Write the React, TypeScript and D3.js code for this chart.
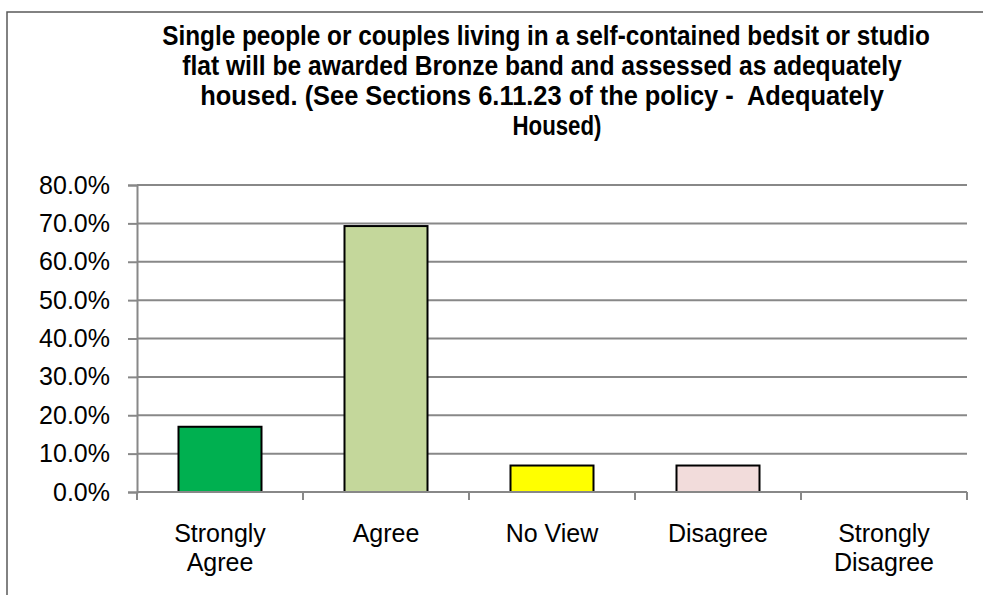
// @ts-nocheck
import React, { useRef, useEffect } from "react";
import * as d3 from "d3";

const categories = ["Strongly Agree", "Agree", "No View", "Disagree", "Strongly Disagree"];
const categoryLines = [["Strongly", "Agree"], ["Agree"], ["No View"], ["Disagree"], ["Strongly", "Disagree"]];
const values = [0.17, 0.693, 0.069, 0.069, 0];
const barColors = ["#00B050", "#C4D79B", "#FFFF00", "#F2DCDB", "#C0504D"];
const yTicks = [0, 0.1, 0.2, 0.3, 0.4, 0.5, 0.6, 0.7, 0.8];
const titleLines = [
  "Single people or couples living in a self-contained bedsit or studio",
  "flat will be awarded Bronze band and assessed as adequately",
  "housed. (See Sections 6.11.23 of the policy -  Adequately",
  "Housed)",
];
const titleWidths = [768, 720, 684, 89];
const titleCenters = [546, 542, 542, 557];

const App = () => {
  const svgRef = useRef(null);

  useEffect(() => {
    const width = 983,
      height = 595;
    const svg = d3.select(svgRef.current);
    svg.selectAll("*").remove();

    const marginTop = 185,
      marginBottom = 103,
      marginLeft = 137,
      marginRight = 16;

    const gridColor = "#888888";
    const font = "'Liberation Sans', Arial, sans-serif";

    // chart frame (runs off the right and bottom edge)
    svg
      .append("path")
      .attr("d", `M7,${height}V12H${width}`)
      .attr("fill", "none")
      .attr("stroke", "#595959")
      .attr("stroke-width", 1.5);

    // title, squeezed horizontally like a condensed face
    svg
      .append("g")
      .selectAll("text")
      .data(titleLines)
      .join("text")
      .attr("text-anchor", "middle")
      .attr("font-family", font)
      .attr("font-weight", "bold")
      .attr("font-size", 27)
      .style("white-space", "pre")
      .attr("fill", "#000")
      .text((d) => d)
      .each(function (d, i) {
        const natural = this.getComputedTextLength() || titleWidths[i];
        const sx = titleWidths[i] / natural;
        d3.select(this).attr("transform", `translate(${titleCenters[i]},${44.5 + i * 30}) scale(${sx},1)`);
      });

    const x = d3
      .scaleBand()
      .domain(categories)
      .range([marginLeft, width - marginRight])
      .paddingInner(0.5)
      .paddingOuter(0.25);

    const y = d3
      .scaleLinear()
      .domain([0, 0.8])
      .range([height - marginBottom, marginTop]);

    // gridlines
    svg
      .append("g")
      .selectAll("line")
      .data(yTicks.filter((d) => d > 0))
      .join("line")
      .attr("x1", marginLeft)
      .attr("x2", width - marginRight)
      .attr("y1", (d) => y(d))
      .attr("y2", (d) => y(d))
      .attr("stroke", gridColor)
      .attr("stroke-width", 2);

    // y axis
    svg
      .append("g")
      .attr("transform", `translate(${marginLeft},0)`)
      .call(d3.axisLeft(y).tickValues(yTicks).tickFormat(d3.format(".1%")).tickSize(9).tickPadding(18))
      .call((g) => g.select(".domain").attr("stroke", gridColor).attr("stroke-width", 2))
      .call((g) => g.selectAll(".tick line").attr("stroke", gridColor).attr("stroke-width", 2))
      .call((g) =>
        g
          .selectAll(".tick text")
          .attr("font-family", font)
          .attr("font-size", 25)
          .attr("fill", "#000")
      );

    // bars
    svg
      .append("g")
      .selectAll("rect")
      .data(values.map((v, i) => ({ key: categories[i], value: v, color: barColors[i] })))
      .join("rect")
      .filter((d) => d.value > 0)
      .attr("x", (d) => x(d.key))
      .attr("y", (d) => y(d.value))
      .attr("width", x.bandwidth())
      .attr("height", (d) => y(0) - y(d.value))
      .attr("fill", (d) => d.color)
      .attr("stroke", "#000")
      .attr("stroke-width", 2);

    // x axis
    const xAxis = svg.append("g");
    xAxis
      .append("line")
      .attr("x1", marginLeft)
      .attr("x2", width - marginRight)
      .attr("y1", y(0))
      .attr("y2", y(0))
      .attr("stroke", gridColor)
      .attr("stroke-width", 2);
    const step = x.step();
    xAxis
      .selectAll(".xtick")
      .data(d3.range(categories.length + 1))
      .join("line")
      .attr("x1", (i) => marginLeft + i * step)
      .attr("x2", (i) => marginLeft + i * step)
      .attr("y1", y(0))
      .attr("y2", y(0) + 8)
      .attr("stroke", gridColor)
      .attr("stroke-width", 2);

    const labels = xAxis
      .selectAll(".xlabel")
      .data(categories)
      .join("text")
      .attr("x", (d) => x(d) + x.bandwidth() / 2)
      .attr("y", 542)
      .attr("text-anchor", "middle")
      .attr("font-family", font)
      .attr("font-size", 25)
      .attr("fill", "#000");
    labels
      .selectAll("tspan")
      .data((d, i) => categoryLines[i])
      .join("tspan")
      .attr("x", function () {
        return this.parentNode.getAttribute("x");
      })
      .attr("dy", (d, i) => (i === 0 ? 0 : 29))
      .text((d) => d);
  }, []);

  return <svg ref={svgRef} width={983} height={595} style={{ position: "absolute", left: 0, top: 0 }}></svg>;
};

export default App;
